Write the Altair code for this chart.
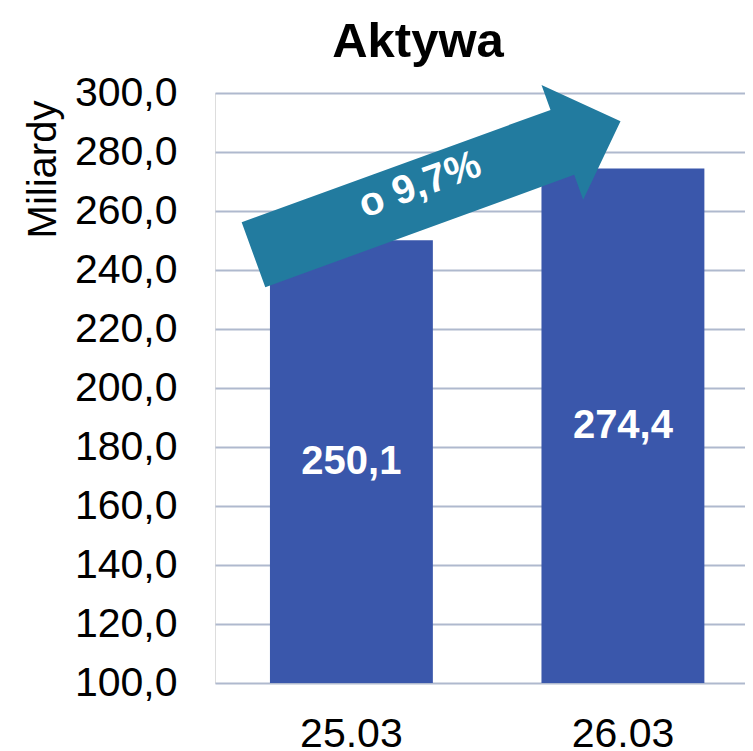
import altair as alt
import pandas as pd

# Data
categories = ["25.03", "26.03"]
values = [250.1, 274.4]
value_labels = ["250,1", "274,4"]
y_ticks = [100, 120, 140, 160, 180, 200, 220, 240, 260, 280, 300]
change_label = "o 9,7%"
title_text = "Aktywa"

df = pd.DataFrame({"date": categories, "value": values, "label": value_labels})

FONT = "Liberation Sans"
BAR = "#3A57AB"
ARROW = "#227B9F"
GRID = "#AFB9CE"

x_scale = alt.Scale(paddingInner=0.4, paddingOuter=0.176, align=0.575)
y_scale = alt.Scale(domain=[100, 300], nice=False, zero=False)

base = alt.Chart(df)

bars = base.mark_bar(color=BAR).encode(
    x=alt.X("date:N", scale=x_scale, sort=categories,
            axis=alt.Axis(title=None, labelAngle=0, labelFontSize=41, labelFont=FONT,
                          labelColor="#000000", labelPadding=31, ticks=False, domain=False,
                          grid=False, labelBaseline="top")),
    y=alt.Y("value:Q", scale=y_scale,
            axis=alt.Axis(values=y_ticks, title="Miliardy", titleFont=FONT, titleFontSize=40,
                          titleFontWeight="normal", titleColor="#000000", titleAngle=270,
                          titleAlign="center", titleBaseline="alphabetic",
                          titleX=-160, titleY=76,
                          labelExpr="replace(format(datum.value, '.1f'), '.', ',')",
                          labelFontSize=41, labelFont=FONT, labelColor="#000000",
                          labelPadding=38, ticks=False, domain=False,
                          grid=True, gridColor=GRID, gridWidth=2)),
    y2=alt.datum(100),
)

labels = base.transform_calculate(mid="(datum.value + 100) / 2").mark_text(
    color="white", font=FONT, fontSize=40, fontWeight="bold", baseline="middle", align="center"
).encode(
    x=alt.X("date:N", scale=x_scale, sort=categories),
    y=alt.Y("mid:Q", scale=y_scale),
    text="label:N",
)

arrow_path = "M -1 -0.177 L 0.683 -0.177 L 0.683 -0.312 L 1 0 L 0.683 0.312 L 0.683 0.177 L -1 0.177 Z"
arrow = alt.Chart(pd.DataFrame({"a": [1]})).mark_point(
    shape=arrow_path, filled=True, color=ARROW, opacity=1, size=152568, angle=340, strokeWidth=0
).encode(x=alt.value(222), y=alt.value(95))

arrow_text = alt.Chart(pd.DataFrame({"t": [change_label]})).mark_text(
    color="white", font=FONT, fontSize=40, fontWeight="bold", angle=340,
    align="center", baseline="middle"
).encode(x=alt.value(205), y=alt.value(92), text="t:N")

title = alt.Chart(pd.DataFrame({"t": [title_text]})).mark_text(
    color="#000000", font=FONT, fontSize=49, fontWeight="bold",
    align="center", baseline="alphabetic"
).encode(x=alt.value(203), y=alt.value(-36), text="t:N")

chart = alt.layer(bars, labels, arrow, arrow_text, title).properties(
    width=530, height=590,
    autosize=alt.AutoSizeParams(type="none"),
    padding={"left": 207, "top": 85, "right": 0, "bottom": 68},
).configure_view(stroke=None).configure(background="white")

chart.save("out.html", embed_options={"renderer": "svg", "actions": False})
